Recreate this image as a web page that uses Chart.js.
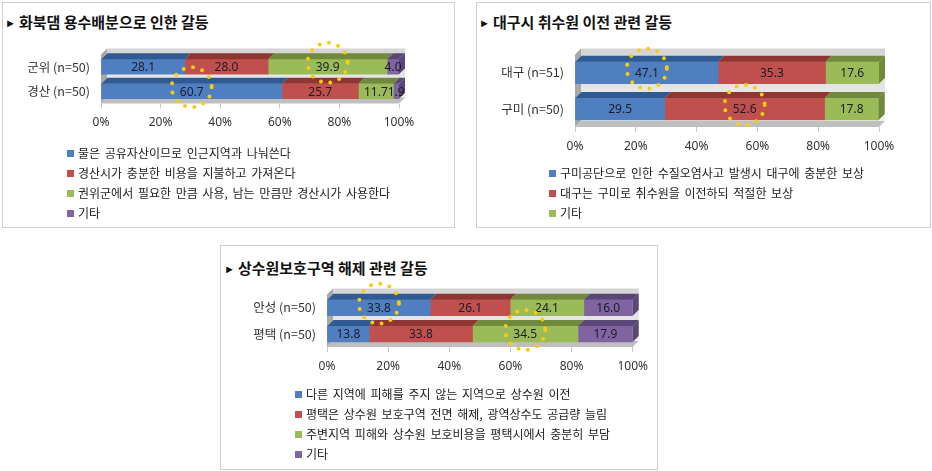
<!DOCTYPE html>
<html>
<head>
<meta charset="utf-8">
<script src="https://cdn.jsdelivr.net/npm/chart.js@4.4.0/dist/chart.umd.min.js"></script>
<style>
  body { margin: 0; background: #fff; width: 932px; height: 471px; position: relative; overflow: hidden;
         font-family: "Noto Sans CJK KR", "Noto Sans", sans-serif; }
  .panel { position: absolute; border: 1px solid #cfcfcf; box-sizing: border-box; background: #fff; }
  .title { position: absolute; font-weight: bold; font-size: 15px; line-height: 20px; color: #111; white-space: nowrap; }
  .title .arr { font-size: 11px; vertical-align: 1px; margin-right: 3px; }
  .legend { position: absolute; font-size: 12px; word-spacing: 2px; line-height: 20px; color: #222; white-space: nowrap; }
  .legend .box { display: inline-block; width: 7px; height: 7px; margin-right: 4px; vertical-align: 1px; }
  canvas { position: absolute; }
</style>
</head>
<body>
<div class="panel" style="left:2px;top:2px;width:453px;height:226px"></div>
<div class="panel" style="left:476px;top:2px;width:455px;height:226px"></div>
<div class="panel" style="left:220px;top:245px;width:438px;height:225px"></div>

<div class="title" style="left:5px;top:12px"><span class="arr">&#9658;</span>화북댐 용수배분으로 인한 갈등</div>
<div class="title" style="left:479px;top:12px"><span class="arr">&#9658;</span>대구시 취수원 이전 관련 갈등</div>
<div class="title" style="left:224px;top:258px"><span class="arr">&#9658;</span>상수원보호구역 해제 관련 갈등</div>

<canvas id="c1" width="451" height="110" style="left:3px;top:36px"></canvas>
<canvas id="c2" width="452" height="130" style="left:477px;top:36px"></canvas>
<canvas id="c3" width="434" height="110" style="left:221px;top:276px"></canvas>

<div class="legend" id="l1" style="left:67px;top:143px"></div>
<div class="legend" id="l2" style="left:549px;top:163px"></div>
<div class="legend" id="l3" style="left:295px;top:384px"></div>

<script>
// colours (front face, top face)
const fronts = ["#4f7fc0", "#c0504d", "#9bbb59", "#8064a2"];
const tops = ["#2f5a92", "#8f3532", "#71893c", "#5b4678"];

// panel 1: 화북댐
const p1Categories = ["군위 (n=50)", "경산 (n=50)"];
const p1Series = [
  "물은 공유자산이므로 인근지역과 나눠쓴다",
  "경산시가 충분한 비용을 지불하고 가져온다",
  "권위군에서 필요한 만큼 사용, 남는 만큼만 경산시가 사용한다",
  "기타"
];
const p1Values = [
  [28.1, 60.7],
  [28.0, 25.7],
  [39.9, 11.7],
  [4.0, 1.9]
];
const p1Rings = [[2, 0], [0, 1]];

// panel 2: 대구시 취수원
const p2Categories = ["대구 (n=51)", "구미 (n=50)"];
const p2Series = [
  "구미공단으로 인한 수질오염사고 발생시 대구에 충분한 보상",
  "대구는 구미로 취수원을 이전하되 적절한 보상",
  "기타"
];
const p2Values = [
  [47.1, 29.5],
  [35.3, 52.6],
  [17.6, 17.8]
];
const p2Rings = [[0, 0], [1, 1]];

// panel 3: 상수원보호구역
const p3Categories = ["안성 (n=50)", "평택 (n=50)"];
const p3Series = [
  "다른 지역에 피해를 주지 않는 지역으로 상수원 이전",
  "평택은 상수원 보호구역 전면 해제, 광역상수도 공급량 늘림",
  "주변지역 피해와 상수원 보호비용을 평택시에서 충분히 부담",
  "기타"
];
const p3Values = [
  [33.8, 13.8],
  [26.1, 33.8],
  [24.1, 34.5],
  [16.0, 17.9]
];
const p3Rings = [[0, 0], [2, 1]];

const depth = 6;

// fake 3d walls and bar faces
const box3d = {
  id: "box3d",
  beforeDatasetsDraw(chart) {
    const { ctx, chartArea: a } = chart;
    const d = depth;
    ctx.save();
    const g = ctx.createLinearGradient(0, a.top - d, 0, a.bottom - d);
    g.addColorStop(0, "#d4d4d4");
    g.addColorStop(1, "#f3f3f3");
    ctx.fillStyle = g;
    ctx.fillRect(a.left + d, a.top - d, a.right - a.left, a.bottom - a.top);
    ctx.fillStyle = "#a8a8a8";
    ctx.beginPath();
    ctx.moveTo(a.left, a.top); ctx.lineTo(a.left + d, a.top - d);
    ctx.lineTo(a.left + d, a.bottom - d); ctx.lineTo(a.left, a.bottom);
    ctx.fill();
    ctx.fillStyle = "#bfbfbf";
    ctx.beginPath();
    ctx.moveTo(a.left, a.bottom); ctx.lineTo(a.left + d, a.bottom - d);
    ctx.lineTo(a.right + d, a.bottom - d); ctx.lineTo(a.right, a.bottom);
    ctx.fill();
    ctx.restore();
  },
  afterDatasetsDraw(chart) {
    const { ctx } = chart;
    const d = depth;
    const n = chart.data.datasets.length;
    ctx.save();
    chart.data.datasets.forEach((ds, i) => {
      chart.getDatasetMeta(i).data.forEach((bar) => {
        const { x, y, base, height } = bar.getProps(["x", "y", "base", "height"], true);
        const t = y - height / 2, b = y + height / 2;
        ctx.fillStyle = tops[i];
        ctx.beginPath();
        ctx.moveTo(base, t); ctx.lineTo(base + d, t - d);
        ctx.lineTo(x + d, t - d); ctx.lineTo(x, t);
        ctx.fill();
        if (i === n - 1) {
          ctx.beginPath();
          ctx.moveTo(x, t); ctx.lineTo(x + d, t - d);
          ctx.lineTo(x + d, b - d); ctx.lineTo(x, b);
          ctx.fill();
        }
      });
    });
    // value labels
    ctx.fillStyle = "#1c1c28";
    ctx.font = '12px "Noto Sans", sans-serif';
    ctx.textAlign = "center";
    ctx.textBaseline = "middle";
    chart.data.datasets.forEach((ds, i) => {
      chart.getDatasetMeta(i).data.forEach((bar, j) => {
        const { x, y, base } = bar.getProps(["x", "y", "base"], true);
        ctx.fillText(ds.data[j].toFixed(1), (x + base) / 2, y + 1);
      });
    });
    ctx.restore();
  },
  afterDraw(chart) {
    const rings = chart.options.plugins.box3d.rings;
    const { ctx } = chart;
    ctx.save();
    ctx.strokeStyle = "#f7cd10";
    ctx.lineWidth = 4;
    ctx.lineCap = "round";
    ctx.setLineDash([0, 9.5]);
    rings.forEach(([i, j]) => {
      const bar = chart.getDatasetMeta(i).data[j];
      const { x, y, base } = bar.getProps(["x", "y", "base"], true);
      ctx.beginPath();
      ctx.arc((x + base) / 2, y - 4, 20, 0, Math.PI * 2);
      ctx.stroke();
    });
    ctx.restore();
  }
};

function makeChart(id, legendId, categories, series, values, rings, g) {
  const datasets = series.map((name, i) => ({
    label: name,
    data: values[i],
    backgroundColor: fronts[i],
    borderWidth: 0,
    barThickness: g.bar
  }));
  new Chart(document.getElementById(id), {
    type: "bar",
    data: { labels: categories, datasets: datasets },
    options: {
      indexAxis: "y",
      responsive: false,
      animation: false,
      layout: { padding: { top: g.top, right: g.right, left: 0, bottom: 0 } },
      plugins: { legend: { display: false }, tooltip: { enabled: false }, box3d: { rings: rings } },
      scales: {
        x: {
          stacked: true,
          min: 0,
          max: 100,
          border: { display: false },
          grid: { drawOnChartArea: false, drawTicks: true, tickLength: 5, color: "#c8c8c8" },
          ticks: { stepSize: 20, padding: 7, color: "#333", font: { size: 12, family: '"Noto Sans", sans-serif' },
                   callback: (v) => v + "%" },
          afterFit: (s) => { s.height = g.h - g.bottom; }
        },
        y: {
          stacked: true,
          border: { display: false },
          grid: { display: false, drawTicks: false },
          ticks: { padding: 11, color: "#333", font: { size: 12.5, family: '"Noto Sans CJK KR", sans-serif' } },
          afterFit: (s) => { s.width = g.left; }
        }
      }
    },
    plugins: [box3d]
  });

  const leg = document.getElementById(legendId);
  series.forEach((name, i) => {
    const row = document.createElement("div");
    const box = document.createElement("span");
    box.className = "box";
    box.style.background = fronts[i];
    row.appendChild(box);
    row.appendChild(document.createTextNode(name));
    leg.appendChild(row);
  });
}

makeChart("c1", "l1", p1Categories, p1Series, p1Values, p1Rings,
  { h: 110, left: 98, right: 55, top: 13.5, bottom: 67.5, bar: 15 });
makeChart("c2", "l2", p2Categories, p2Series, p2Values, p2Rings,
  { h: 130, left: 98, right: 50, top: 15, bottom: 91, bar: 22 });
makeChart("c3", "l3", p3Categories, p3Series, p3Values, p3Rings,
  { h: 110, left: 106, right: 17, top: 15, bottom: 71, bar: 16 });
</script>
</body>
</html>
